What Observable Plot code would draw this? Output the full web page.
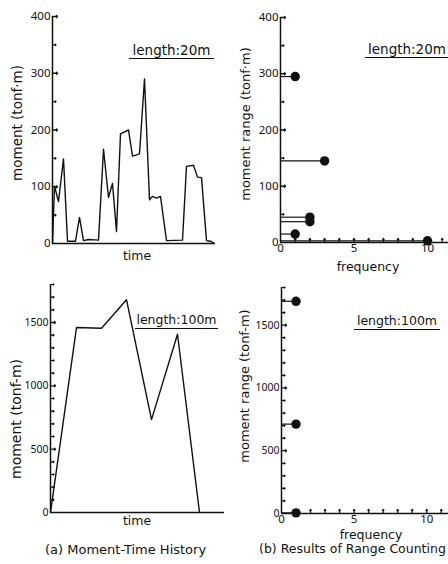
<!DOCTYPE html>
<html><head><meta charset="utf-8">
<script src="https://cdn.jsdelivr.net/npm/d3@7"></script>
<script src="https://cdn.jsdelivr.net/npm/@observablehq/plot@0.6"></script>
<style>
body{margin:0;background:#fff;}
#root{position:relative;width:448px;height:564px;overflow:hidden;font-family:"DejaVu Sans",sans-serif;color:#111;}
.panel{position:absolute;}
.lab{position:absolute;white-space:nowrap;line-height:1;transform:translate(-50%,-50%);}
.ylab{position:absolute;white-space:nowrap;line-height:1;transform:translate(-50%,-50%) rotate(-90deg);}
.len{position:absolute;border-bottom:1.3px solid #111;text-align:center;height:16px;line-height:16px;}
</style></head><body><div id="root"></div>
<script>
// ---- data ----
const time20   = [0,2,6,11,15,23,27,31,36,46,51,56,60,64,68,76,80,87,92,97,100,104,108,114,130,134,141,145,149,154,158,162];
const moment20 = [0,101,74,149,4,4,46,5,7,6,166,81,106,21,193,200,154,158,290,77,83,80,83,5,6,136,138,117,116,5,4,0];
const time100   = [0,26,51,76,101,127,149];
const moment100 = [0,1460,1455,1680,733,1407,0];
const freq20  = [1,3,2,2,1,10];
const range20 = [295,145,45,37,15,3];
const freq100  = [1,1,1];
const range100 = [1690,712,5];
const yTickLabels20  = [0,100,200,300,400];
const yTickLabels100 = [0,500,1000,1500];
const freqTickLabels = [0,5,10];
const labels = {
  tlY: "moment (tonf·m)", trY: "moment range (tonf·m)",
  blY: "moment (tonf-m)", brY: "moment range (tonf-m)",
  time: "time", freq: "frequency",
  len20: "length:20m", len100: "length:100m",
  capA: "(a) Moment-Time History", capB: "(b) Results of Range Counting"
};

const root = document.getElementById("root");
const INK = "#111";
const fmt = d => String(d);
function place(el, left, top){ const d=document.createElement("div"); d.className="panel"; d.style.left=left+"px"; d.style.top=top+"px"; d.appendChild(el); root.appendChild(d); }
function html(cls, txt, x, y, size, extra){ const d=document.createElement("div"); d.className=cls; d.textContent=txt; d.style.left=x+"px"; d.style.top=y+"px"; d.style.fontSize=size+"px"; if(extra) Object.assign(d.style, extra); root.appendChild(d); return d; }

function yTicks(minor, major, minorLen, majorLen){
  return [
    Plot.vector(minor, {x: 0, y: d => d, length: minorLen, rotate: 90, anchor: "start", stroke: INK, strokeWidth: 1.2}),
    Plot.vector(major, {x: 0, y: d => d, length: majorLen, rotate: 90, anchor: "start", stroke: INK, strokeWidth: 1.3})
  ];
}
const style = {background: "transparent", overflow: "visible", color: INK};

// ---- top-left: moment-time history, 20 m ----
const tl = Plot.plot({
  width: 224, height: 280, marginLeft: 52, marginRight: 9, marginTop: 16, marginBottom: 37,
  style, x: {domain: [0, 163], axis: null}, y: {domain: [0, 400]},
  marks: [
    Plot.ruleX([0], {stroke: INK, strokeWidth: 1.5}),
    Plot.ruleY([0], {stroke: INK, strokeWidth: 1.5}),
    ...yTicks(d3.range(50, 400, 100), d3.range(100, 401, 100), 3.5, 5),
    Plot.line(time20.map((t, i) => ({t, m: moment20[i]})), {x: "t", y: "m", stroke: INK, strokeWidth: 1.4}),
    Plot.axisY(yTickLabels20, {tickSize: 0, tickPadding: 2, fontSize: 11.5, tickFormat: fmt, label: null})
  ]
});
place(tl, 0, 0);

// ---- top-right: range counting, 20 m ----
const rc20 = freq20.map((f, i) => ({f, r: range20[i]}));
const tr = Plot.plot({
  width: 224, height: 280, marginLeft: 56, marginRight: 0, marginTop: 17, marginBottom: 38,
  style, x: {domain: [0, 11.43]}, y: {domain: [0, 400]},
  marks: [
    Plot.ruleX([0], {stroke: INK, strokeWidth: 1.5}),
    Plot.ruleY([0], {stroke: INK, strokeWidth: 1.5}),
    ...yTicks(d3.range(50, 400, 100), d3.range(100, 401, 100), 3.5, 5),
    Plot.vector(d3.range(1, 12), {x: d => d, y: 0, length: 4, rotate: 0, anchor: "start", stroke: INK, strokeWidth: 1.2}),
    Plot.ruleY(rc20, {x1: 0, x2: "f", y: "r", stroke: INK, strokeWidth: 1.2}),
    Plot.dot(rc20, {x: "f", y: "r", r: 4.7, fill: INK, stroke: null}),
    Plot.axisY(yTickLabels20, {tickSize: 0, tickPadding: 2, fontSize: 11.5, tickFormat: fmt, label: null}),
    Plot.axisX(freqTickLabels, {tickSize: 0, tickPadding: 1, fontSize: 11.5, tickFormat: fmt, label: null})
  ]
});
place(tr, 224, 0);

// ---- bottom-left: moment-time history, 100 m ----
const bl = Plot.plot({
  width: 224, height: 280, marginLeft: 50, marginRight: 0, marginTop: 14, marginBottom: 38,
  style, x: {domain: [0, 174], axis: null}, y: {domain: [0, 1800]},
  marks: [
    Plot.ruleX([0], {stroke: INK, strokeWidth: 1.5}),
    Plot.ruleY([0], {stroke: INK, strokeWidth: 1.5}),
    ...yTicks(d3.range(100, 1801, 100).filter(d => d % 500), d3.range(500, 1501, 500), 3.5, 5),
    Plot.line(time100.map((t, i) => ({t, m: moment100[i]})), {x: "t", y: "m", stroke: INK, strokeWidth: 1.4}),
    Plot.axisY(yTickLabels100, {tickSize: 0, tickPadding: 2, fontSize: 10.5, tickFormat: fmt, label: null})
  ]
});
place(bl, 0, 270);

// ---- bottom-right: range counting, 100 m ----
const rc100 = freq100.map((f, i) => ({f, r: range100[i]}));
const br = Plot.plot({
  width: 224, height: 280, marginLeft: 57, marginRight: 0, marginTop: 17, marginBottom: 37,
  style, x: {domain: [0, 11.5]}, y: {domain: [0, 1800]},
  marks: [
    Plot.ruleX([0], {stroke: INK, strokeWidth: 1.5}),
    Plot.ruleY([0], {stroke: INK, strokeWidth: 1.5}),
    ...yTicks(d3.range(100, 1801, 100).filter(d => d % 500), d3.range(500, 1501, 500), 3.5, 5),
    Plot.vector(d3.range(1, 12), {x: d => d, y: 0, length: 4, rotate: 0, anchor: "start", stroke: INK, strokeWidth: 1.2}),
    Plot.ruleY(rc100, {x1: 0, x2: "f", y: "r", stroke: INK, strokeWidth: 1.2}),
    Plot.dot(rc100, {x: "f", y: "r", r: 4.7, fill: INK, stroke: null}),
    Plot.axisY(yTickLabels100, {tickSize: 0, tickPadding: 2, fontSize: 10.5, tickFormat: fmt, label: null}),
    Plot.axisX(freqTickLabels, {tickSize: 0, tickPadding: 1, fontSize: 11.5, tickFormat: fmt, label: null})
  ]
});
place(br, 224, 270);

// ---- text annotations ----
html("ylab", labels.tlY, 18, 123, 13.5);
html("ylab", labels.trY, 245, 124, 13);
html("ylab", labels.blY, 16, 419, 14);
html("ylab", labels.brY, 244, 386, 13);
html("lab", labels.time, 137, 256, 12.5);
html("lab", labels.freq, 368, 267, 12.5);
html("lab", labels.time, 137, 521, 12.5);
html("lab", labels.freq, 371, 535, 12.5);
html("len", labels.len20, 129, 42, 13.5, {width: "85px"});
html("len", labels.len20, 365, 41, 13.5, {width: "84px"});
html("len", labels.len100, 135, 312, 12.5, {width: "83px"});
html("len", labels.len100, 354, 313, 12.5, {width: "86px"});
html("lab", labels.capA, 45, 549, 13, {transform: "translate(0,-50%)"});
html("lab", labels.capB, 259, 549, 12.5, {transform: "translate(0,-50%)"});
</script></body></html>
